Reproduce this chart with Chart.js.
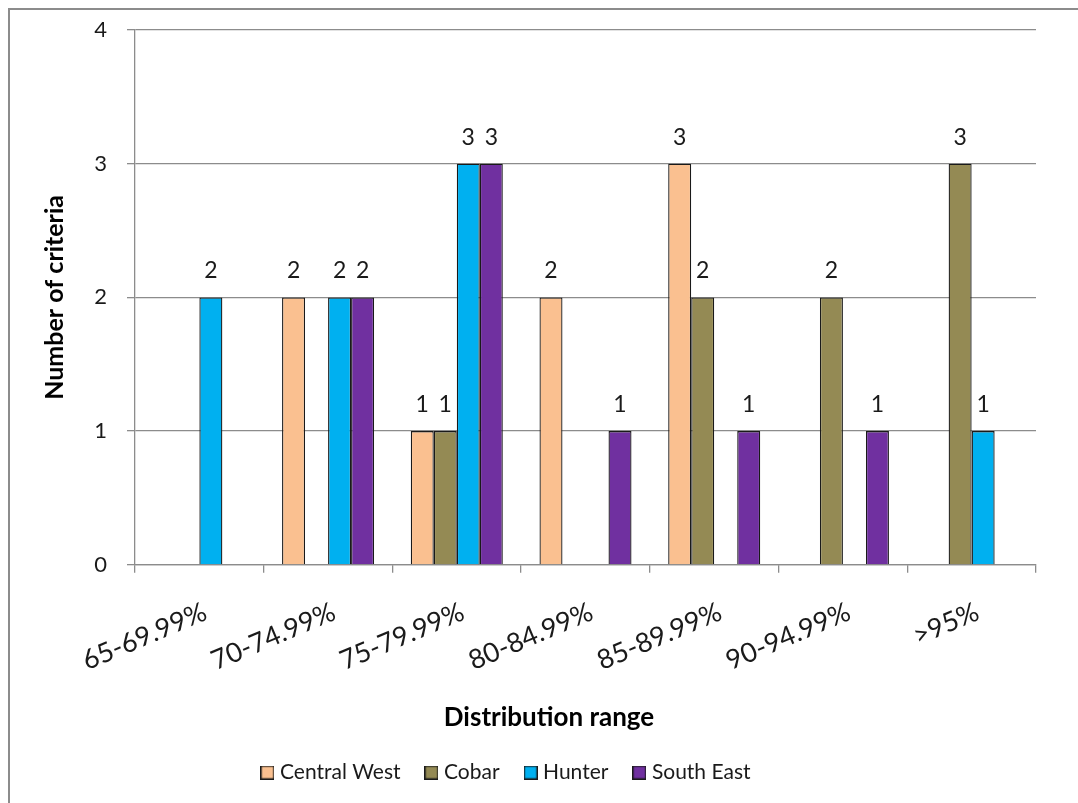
<!DOCTYPE html>
<html>
<head>
<meta charset="utf-8">
<script src="https://cdn.jsdelivr.net/npm/chart.js@4.4.1/dist/chart.umd.min.js"></script>
<style>
  html, body { margin: 0; padding: 0; background: #ffffff; }
  #wrap { position: relative; width: 1078px; height: 803px; overflow: hidden; }
  #frame { position: absolute; left: 8px; top: 8px; width: 1200px; height: 900px; border-left: 2px solid #8c8c8c; border-top: 2px solid #8c8c8c; }
  canvas { position: absolute; left: 0; top: 0; }
</style>
</head>
<body>
<div id="wrap">
  <div id="frame"></div>
  <canvas id="c" width="1078" height="803"></canvas>
</div>
<script>
const categories = ['65-69.99%', '70-74.99%', '75-79.99%', '80-84.99%', '85-89.99%', '90-94.99%', '>95%'];
const centralWest = [null, 2, 1, 2, 3, null, null];
const cobar       = [null, null, 1, null, 2, 2, 3];
const hunter      = [2, 2, 3, null, null, null, 1];
const southEast   = [null, 2, 3, 1, 1, 1, null];
const yTicks = [0, 1, 2, 3, 4];

const seriesNames = ['Central West', 'Cobar', 'Hunter', 'South East'];
const seriesColors = ['#FAC090', '#948A54', '#00B0F0', '#7030A0'];
const xTitle = 'Distribution range';
const yTitle = 'Number of criteria';

const FONT = 'Lato, "Open Sans", sans-serif';

function swatch(color) {
  const c = document.createElement('canvas');
  c.width = 14; c.height = 14;
  const g = c.getContext('2d');
  g.fillStyle = '#1a1a1a';
  g.fillRect(0, 0, 14, 14);
  g.fillStyle = color;
  g.fillRect(1.3, 1.3, 11.4, 11.4);
  return c;
}

const valueLabels = {
  id: 'valueLabels',
  afterDatasetsDraw(chart) {
    const ctx = chart.ctx;
    ctx.save();
    ctx.font = '23px ' + FONT;
    ctx.fillStyle = '#1a1a1a';
    ctx.textAlign = 'center';
    ctx.textBaseline = 'alphabetic';
    chart.data.datasets.forEach((ds, i) => {
      const meta = chart.getDatasetMeta(i);
      meta.data.forEach((bar, j) => {
        const v = ds.data[j];
        if (v === null || v === undefined) return;
        ctx.fillText(String(v), bar.x, bar.y - 19);
      });
    });
    ctx.restore();
  }
};

const boxShift = {
  id: 'boxShift',
  afterLayout(chart) {
    if (chart.legend) { chart.legend.left -= 10; chart.legend.right -= 10; }
    if (chart.titleBlock) { chart.titleBlock.left += 31; chart.titleBlock.right += 31; }
  }
};

function ds(label, data, color) {
  return { label, data, backgroundColor: color, borderColor: '#1a1a1a', borderWidth: 1.3,
           categoryPercentage: 0.715, barPercentage: 1.0 };
}

new Chart(document.getElementById('c'), {
  type: 'bar',
  data: {
    labels: categories,
    datasets: [
      ds(seriesNames[0], centralWest, seriesColors[0]),
      ds(seriesNames[1], cobar, seriesColors[1]),
      ds(seriesNames[2], hunter, seriesColors[2]),
      ds(seriesNames[3], southEast, seriesColors[3])
    ]
  },
  options: {
    responsive: false,
    animation: false,
    devicePixelRatio: 1,
    layout: { padding: { left: 0, right: 42, top: 30, bottom: 10 } },
    plugins: {
      title: {
        display: true,
        text: xTitle,
        position: 'bottom',
        weight: 500,
        font: { family: FONT, size: 26, weight: 'bold' },
        color: '#000000',
        padding: { top: 0, bottom: 0 }
      },
      legend: {
        position: 'bottom',
        weight: 1000,
        labels: {
          font: { family: FONT, size: 21 },
          color: '#1a1a1a',
          usePointStyle: true,
          pointStyleWidth: 4,
          boxHeight: 14,
          padding: 29,
          generateLabels(chart) {
            return chart.data.datasets.map((d, i) => ({
              text: d.label,
              pointStyle: swatch(seriesColors[i]),
              fillStyle: seriesColors[i],
              strokeStyle: '#1a1a1a',
              lineWidth: 1,
              hidden: false,
              datasetIndex: i,
              fontColor: '#1a1a1a'
            }));
          }
        }
      },
      tooltip: { enabled: false }
    },
    scales: {
      x: {
        afterFit(scale) { scale.height = 137; },
        grid: { offset: true, drawOnChartArea: false, drawTicks: true, tickLength: 8, color: '#8c8c8c', lineWidth: 1.3 },
        border: { color: '#8c8c8c', width: 1.3 },
        ticks: { font: { family: FONT, size: 27 }, color: '#1a1a1a', minRotation: 23, maxRotation: 23, padding: 23, labelOffset: 6, autoSkip: false }
      },
      y: {
        min: 0, max: 4,
        afterBuildTicks(scale) { scale.ticks = yTicks.map(v => ({ value: v })); },
        afterFit(scale) { scale.width = 135; scale.paddingTop = 0; scale.paddingBottom = 0; },
        grid: { color: '#8c8c8c', lineWidth: 1.3, tickLength: 8 },
        border: { color: '#8c8c8c', width: 1.3 },
        ticks: { font: { family: FONT, size: 22 }, color: '#1a1a1a', padding: 20 },
        title: { display: true, text: yTitle, font: { family: FONT, size: 25, weight: 'bold' }, color: '#000000', padding: { top: 40, bottom: 0 } }
      }
    }
  },
  plugins: [valueLabels, boxShift]
});
</script>
</body>
</html>
